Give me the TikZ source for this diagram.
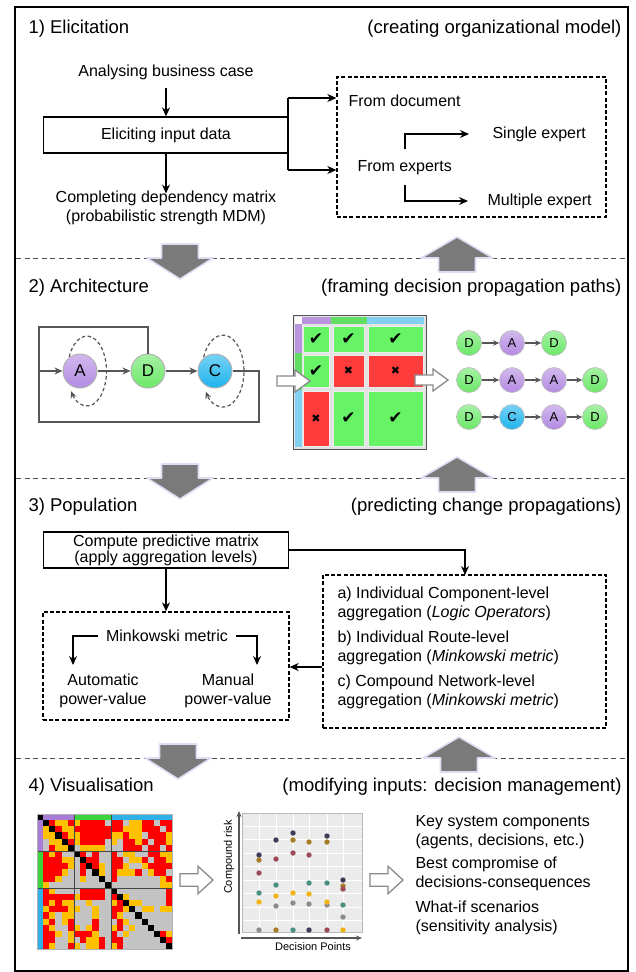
\documentclass[tikz,border=0pt]{standalone}
\usepackage{fontspec}
\setmainfont{Liberation Sans}
\newfontfamily\dvsymb{DejaVu Sans}
\usetikzlibrary{arrows.meta,calc}

\definecolor{nodeA}{HTML}{B38AE2}
\definecolor{nodeD}{HTML}{6BE868}
\definecolor{nodeC}{HTML}{1DB4EE}
\definecolor{cellok}{HTML}{66F366}
\definecolor{cellbad}{HTML}{FF3C3C}
\definecolor{hmK}{HTML}{000000}
\definecolor{hmR}{HTML}{FF0000}
\definecolor{hmY}{HTML}{FFC000}
\definecolor{hmG}{HTML}{C3C3C3}
\definecolor{hdrA}{HTML}{A77BD6}
\definecolor{hdrD}{HTML}{3AD53A}
\definecolor{hdrC}{HTML}{2FB0E6}
\definecolor{flowgray}{HTML}{7A7A7A}
\definecolor{flowglow}{HTML}{DDDDF3}
\definecolor{netline}{HTML}{565656}
\definecolor{hollowc}{HTML}{8A8A8A}
\definecolor{plotbg}{HTML}{EBEBEB}
\definecolor{dNavy}{HTML}{3C3C58}
\definecolor{dBrown}{HTML}{A67C24}
\definecolor{dMaroon}{HTML}{9C4B58}
\definecolor{dTeal}{HTML}{4A9080}
\definecolor{dYellow}{HTML}{F0B214}
\definecolor{dGray}{HTML}{8C8C8C}

\newcommand\okmark{{\dvsymb\fontsize{17}{17}\selectfont ✔}}
\newcommand\badmark{{\dvsymb\fontsize{11}{11}\selectfont ✖}}

\begin{document}
\begin{tikzpicture}[x=1pt,y=-1pt,font=\fontsize{16}{19}\selectfont,
  headtext/.style={font=\fontsize{18.5}{22}\selectfont},
  arr/.style={line width=1.2pt,-{Stealth[length=9pt,width=8pt]}},
  solidbox/.style={draw,line width=1.3pt,inner sep=0pt},
  dashbox/.style={draw,line width=1.3pt,dash pattern=on 4pt off 2.2pt,inner sep=0pt},
  sepline/.style={draw=black!70,line width=0.9pt,dash pattern=on 5pt off 3.5pt},
  orb/.style={circle,inner sep=0pt,minimum size=34pt,draw=gray!60,line width=1pt,
    top color=#1!60!white,bottom color=#1,font=\fontsize{17}{20}\selectfont},
  pathorb/.style={circle,inner sep=0pt,minimum size=25pt,draw=gray!50,line width=0.7pt,
    top color=#1!60!white,bottom color=#1,font=\fontsize{13}{15}\selectfont},
  netarr/.style={draw=netline,line width=1.6pt,-{Stealth[length=8pt,width=7pt]}},
  netwire/.style={draw=netline,line width=1.6pt},
  patharr/.style={draw=netline,line width=1.2pt,-{Stealth[length=6pt,width=5.5pt]}},
  selfloop/.style={draw=netline,line width=1.2pt,dash pattern=on 3.5pt off 2.5pt,
    -{Stealth[length=7pt,width=6pt]}},
  cellbox/.style={draw=white!85!gray,line width=0.8pt,fill=#1,inner sep=0pt},
  axisline/.style={draw=netline,line width=1.2pt,-{Stealth[length=6pt,width=5pt]}},
  smalltext/.style={font=\fontsize{11}{13}\selectfont},
  bigdown/.pic={\filldraw[fill=flowgray,draw=flowglow,line width=1.6pt,line join=round]
     (-18.5,-14) -- (18.5,-14) -- (18.5,0) -- (33,0) -- (0,21) -- (-33,0) -- (-18.5,0) -- cycle;},
  bigup/.pic={\filldraw[fill=flowgray,draw=flowglow,line width=1.6pt,line join=round]
     (-18.5,14) -- (18.5,14) -- (18.5,0) -- (36,0) -- (0,-21) -- (-36,0) -- (-18.5,0) -- cycle;},
  hollowarrow/.pic={\filldraw[fill=white,draw=hollowc,line width=1.3pt]
     (0,-5) -- (18,-5) -- (18,-11) -- (33,0) -- (18,11) -- (18,5) -- (0,5) -- cycle;}
]
\useasboundingbox (0,0) rectangle (635,972);

% outer frame and stage separators
\draw[line width=2pt] (15,7) rectangle (628,970.5);
\foreach \yy in {258,478,758} \draw[sepline] (16,\yy) -- (627,\yy);

% flow arrows between stages
\foreach \yy in {258,478} {
  \pic at (180,\yy) {bigdown};
  \pic at (457,\yy) {bigup};
}
\pic at (178,758) {bigdown};
\pic at (459,758) {bigup};

%% ---------- 1) Elicitation ----------
\node[headtext,anchor=west] (t1) at (25,29) {1) Elicitation};
\node[headtext,anchor=east] (s1) at (625,29) {(creating organizational model)};
\node (ana) at (166,72) {Analysing business case};
\node[solidbox,minimum width=245pt,minimum height=36pt] (elic) at (166,135) {Eliciting input data};
\node[align=center] (comp) at (166,208) {Completing dependency matrix\\(probabilistic strength MDM)};
\draw[arr,shorten <=5pt] (ana) -- (elic);
\draw[arr,shorten >=-6pt] (elic) -- (comp);

\node[dashbox,minimum width=269pt,minimum height=140pt] (srcbox) at (471.5,147) {};
\coordinate (bt) at (288,98);
\coordinate (bb) at (288,170);
\draw[line width=1.2pt] (bt) -- (bb);
\draw[arr] (bt) -- (bt -| srcbox.west);
\draw[arr] (bb) -- (bb -| srcbox.west);

\node[anchor=west] (fdoc) at (345,101) {From document};
\node[anchor=west] (fexp) at (354,168) {From experts};
\node[anchor=west] (single) at (489,134) {Single expert};
\node[anchor=west] (multi) at (484,201) {Multiple expert};
\coordinate (kb1) at (405,149);
\coordinate (kb2) at (405,185);
\draw[arr,shorten >=20pt] (kb1) |- (single.west);
\draw[arr,shorten >=16pt] (kb2) |- (multi.west);

%% ---------- 2) Architecture ----------
\node[headtext,anchor=west] (t2) at (25,288) {2) Architecture};
\node[headtext,anchor=east] (s2) at (625,288) {(framing decision propagation paths)};

% self-influence loops behind the nodes
\draw[selfloop] (67.6,374.7) arc[start angle=174,end angle=505,x radius=19.5,y radius=35];
\draw[selfloop] (202.1,374.8) arc[start angle=174,end angle=505,x radius=21,y radius=36];

\node[orb=nodeA] (A) at (80,371) {A};
\node[orb=nodeD] (D) at (148,371) {D};
\node[orb=nodeC] (C) at (215,371) {C};

\coordinate (lt) at (39,327);
\coordinate (lm) at (39,371);
\coordinate (lb) at (39,422);
\coordinate (rb) at (259,422);
\draw[netwire] (D.north) |- (lt) -- (lm);
\draw[netwire] (C.east) -| (rb) -- (lb) -- (lm);
\draw[netarr] (lm) -- (A);
\draw[netarr] (A) -- (D);
\draw[netarr] (D) -- (C);

% block matrix
\fill[gray!22] (293,315) rectangle (426,449);
\draw[gray!65!black,line width=0.8pt] (293,315) rectangle (426,449);
\fill[white] (295,317) rectangle (302,324);
\fill[hdrA!80!white] (302,317) rectangle (331,324);
\fill[hdrD!80!white] (331,317) rectangle (367,324);
\fill[hdrC!60!white] (367,317) rectangle (424,324);
\fill[hdrA!80!white] (295,324) rectangle (302,353);
\fill[hdrD!80!white] (295,353) rectangle (302,390);
\fill[hdrC!60!white] (295,390) rectangle (302,447);

\node[cellbox=cellok,minimum width=26pt,minimum height=26pt] (m11) at (316,339) {\okmark};
\node[cellbox=cellok,minimum width=31pt,minimum height=26pt] (m12) at (348.5,339) {\okmark};
\node[cellbox=cellok,minimum width=55pt,minimum height=26pt] (m13) at (395.5,339) {\okmark};
\node[cellbox=cellok,minimum width=26pt,minimum height=32pt] (m21) at (316,371) {\okmark};
\node[cellbox=cellbad,minimum width=31pt,minimum height=32pt] (m22) at (348.5,371) {\badmark};
\node[cellbox=cellbad,minimum width=55pt,minimum height=32pt] (m23) at (395.5,371) {\badmark};
\node[cellbox=cellbad,minimum width=26pt,minimum height=55pt] (m31) at (316,418.5) {\badmark};
\node[cellbox=cellok,minimum width=31pt,minimum height=55pt] (m32) at (348.5,418.5) {\okmark};
\node[cellbox=cellok,minimum width=55pt,minimum height=55pt] (m33) at (395.5,418.5) {\okmark};

\pic at (277,381) {hollowarrow};
\pic at (415,380) {hollowarrow};

% propagation paths
\node[pathorb=nodeD] (p11) at (469,343) {D};
\node[pathorb=nodeA] (p12) at (512,343) {A};
\node[pathorb=nodeD] (p13) at (554,343) {D};
\node[pathorb=nodeD] (p21) at (469,380) {D};
\node[pathorb=nodeA] (p22) at (512,380) {A};
\node[pathorb=nodeA] (p23) at (554,380) {A};
\node[pathorb=nodeD] (p24) at (595,380) {D};
\node[pathorb=nodeD] (p31) at (469,417) {D};
\node[pathorb=nodeC] (p32) at (512,417) {C};
\node[pathorb=nodeA] (p33) at (554,417) {A};
\node[pathorb=nodeD] (p34) at (595,417) {D};
\draw[patharr] (p11) -- (p12);
\draw[patharr] (p12) -- (p13);
\draw[patharr] (p21) -- (p22);
\draw[patharr] (p22) -- (p23);
\draw[patharr] (p23) -- (p24);
\draw[patharr] (p31) -- (p32);
\draw[patharr] (p32) -- (p33);
\draw[patharr] (p33) -- (p34);

%% ---------- 3) Population ----------
\node[headtext,anchor=west] (t3) at (25,507) {3) Population};
\node[headtext,anchor=east] (s3) at (625,507) {(predicting change propagations)};
\node[solidbox,minimum width=245pt,minimum height=36pt,align=center,font=\fontsize{16}{13.5}\selectfont] (cpm) at (166,550) {Compute predictive matrix\\(apply aggregation levels)};

\node[dashbox,minimum width=246pt,minimum height=108pt] (minkbox) at (166,666) {};
\node[dashbox,minimum width=283pt,minimum height=153pt] (aggbox) at (464.5,651.5) {};
\coordinate (aggin) at (465,575);
\draw[arr] (cpm.east) -| (aggin);
\draw[arr] (cpm.south) -- (cpm.south |- minkbox.north);
\draw[arr] (aggbox.west |- 0,667) -- (minkbox.east |- 0,667);

\node[inner xsep=8pt] (mm) at (167,636) {Minkowski metric};
\coordinate (ma) at (73,665);
\coordinate (mb) at (257,665);
\draw[arr] (mm.west) -| (ma);
\draw[arr] (mm.east) -| (mb);
\node[align=center] (auto) at (103,691) {Automatic\\power-value};
\node[align=center] (manual) at (228,691) {Manual\\power-value};

\node[anchor=west,align=left] (ag1) at (334,604) {a) Individual Component-level\\aggregation (\textit{Logic Operators})};
\node[anchor=west,align=left] (ag2) at (334,648) {b) Individual Route-level\\aggregation (\textit{Minkowski metric})};
\node[anchor=west,align=left] (ag3) at (334,692) {c) Compound Network-level\\aggregation (\textit{Minkowski metric})};

%% ---------- 4) Visualisation ----------
\node[headtext,anchor=west] (t4) at (25,787) {4) Visualisation};
\node[headtext,anchor=east] (s4) at (625,787) {(modifying inputs: decision management)};

% dependency heat map (21 x 21 with coloured headers)
\fill[black] (37,814) rectangle ++(6.15,6.15);
\fill[hdrA] (43.15,814) rectangle (73.9,820.15);
\fill[hdrD] (73.9,814) rectangle (110.8,820.15);
\fill[hdrC] (110.8,814) rectangle (172.15,820.15);
\fill[hdrA] (37,820.15) rectangle (43.15,850.9);
\fill[hdrD] (37,850.9) rectangle (43.15,887.8);
\fill[hdrC] (37,887.8) rectangle (43.15,949.15);
\foreach \row [count=\i] in {
 {K,R,Y,Y,R,Y,R,R,R,R,G,R,R,G,Y,Y,R,R,G,R,R},
 {Y,K,R,Y,Y,R,R,R,R,R,R,R,R,Y,Y,Y,R,R,R,G,R},
 {Y,Y,K,R,Y,Y,R,R,R,R,R,Y,Y,R,Y,Y,G,R,R,R,Y},
 {G,Y,Y,K,R,Y,R,R,R,R,G,Y,G,R,R,Y,R,G,R,R,Y},
 {G,R,Y,Y,K,G,Y,Y,Y,Y,G,G,G,R,R,R,G,R,R,G,R},
 {R,Y,R,G,G,K,R,G,R,G,G,R,G,Y,Y,G,G,R,R,Y,Y},
 {R,R,R,Y,Y,G,K,R,R,G,G,R,R,G,Y,Y,R,G,R,R,Y},
 {R,R,R,R,Y,G,R,K,R,Y,G,R,R,Y,G,G,Y,R,R,R,R},
 {R,R,R,Y,G,G,R,G,K,Y,G,R,Y,Y,Y,R,G,Y,R,R,G},
 {R,R,Y,G,G,G,Y,G,G,K,G,R,G,G,G,G,G,G,G,Y,R},
 {Y,G,G,G,G,G,G,G,G,G,K,G,G,G,G,G,G,G,G,Y,Y},
 {R,Y,G,G,G,G,R,R,R,R,G,K,G,G,G,G,G,G,G,G,R},
 {R,R,R,R,R,Y,R,R,R,R,G,R,K,Y,G,G,G,G,G,G,R},
 {R,Y,R,Y,Y,G,G,Y,G,G,G,Y,R,K,Y,Y,G,G,G,G,R},
 {Y,R,R,R,Y,Y,G,G,Y,G,G,R,R,Y,K,G,Y,Y,G,Y,Y},
 {R,Y,G,Y,Y,G,G,G,Y,G,G,R,Y,G,G,K,G,G,G,G,G},
 {Y,R,G,Y,R,G,G,G,R,G,G,G,R,Y,G,G,K,G,G,G,G},
 {R,Y,G,G,R,Y,G,Y,R,G,G,Y,R,G,Y,G,G,K,G,G,G},
 {R,R,Y,G,Y,R,R,R,Y,G,G,R,G,Y,G,G,G,G,K,R,Y},
 {R,R,G,G,Y,G,R,Y,Y,R,G,R,R,G,G,G,G,G,G,K,R},
 {R,Y,G,G,R,Y,G,Y,Y,R,G,Y,R,G,G,G,G,G,G,G,K}}{
  \foreach \c [count=\j] in \row {
    \fill[hm\c] ({37+\j*6.15},{814+\i*6.15}) rectangle ++(6.15,6.15);
  }
}
\draw[gray!55!black,line width=0.5pt] (73.9,814) -- (73.9,949.15) (110.8,814) -- (110.8,949.15)
  (37,850.9) -- (172.15,850.9) (37,887.8) -- (172.15,887.8);
\draw[gray!60,line width=0.5pt] (37,814) rectangle (172.15,949.15);

\pic[yscale=1.25] at (180,880) {hollowarrow};

% compound risk per decision point
\fill[plotbg] (242,813) rectangle (362,932);
\foreach \xx in {259,276,293,309,327,343} \draw[white,line width=0.9pt] (\xx,813) -- (\xx,932);
\foreach \yy in {826,839.5,853,866.5,880,893.5,907,920.5} \draw[white,line width=0.9pt] (242,\yy) -- (362,\yy);
\draw[gray!55,line width=0.6pt] (242,813) rectangle (362,932);
\coordinate (yo) at (239,934);
\coordinate (ye) at (239,811);
\coordinate (xo) at (241,938);
\coordinate (xe) at (362,938);
\draw[axisline] (yo) -- (ye);
\draw[axisline] (xo) -- (xe);
\node[smalltext,rotate=90] (ylab) at (229,857) {Compound risk};
\node[smalltext] (xlab) at (313,947) {Decision Points};
\foreach \xx/\yy/\cc in {
  259/855/dNavy, 259/860/dBrown, 259/873/dMaroon, 259/893/dTeal, 259/902/dYellow, 259/930/dGray,
  276/840/dNavy, 276/859/dMaroon, 276/885/dTeal, 276/896/dYellow, 276/906/dGray, 276/930/dBrown,
  293/833/dNavy, 293/840/dBrown, 293/853/dMaroon, 293/893/dYellow, 293/903/dGray, 293/930/dTeal,
  309/842/dBrown, 309/855/dMaroon, 309/883/dTeal, 309/894/dYellow, 309/904/dGray, 309/930/dNavy,
  327/836/dNavy, 327/842/dBrown, 327/883/dTeal, 327/905/dGray, 327/902/dYellow, 327/930/dMaroon,
  343/880/dNavy, 343/886/dBrown, 343/889/dMaroon, 343/905/dTeal, 343/917/dGray, 343/930/dYellow}
  \fill[\cc] (\xx,\yy) circle[radius=2.7pt];

\pic[yscale=1.25] at (370,880) {hollowarrow};

\node[anchor=west,align=left] (k1) at (412,832) {Key system components\\(agents, decisions, etc.)};
\node[anchor=west,align=left] (k2) at (412,874) {Best compromise of\\decisions-consequences};
\node[anchor=west,align=left] (k3) at (412,918) {What-if scenarios\\(sensitivity analysis)};
\end{tikzpicture}
\end{document}
